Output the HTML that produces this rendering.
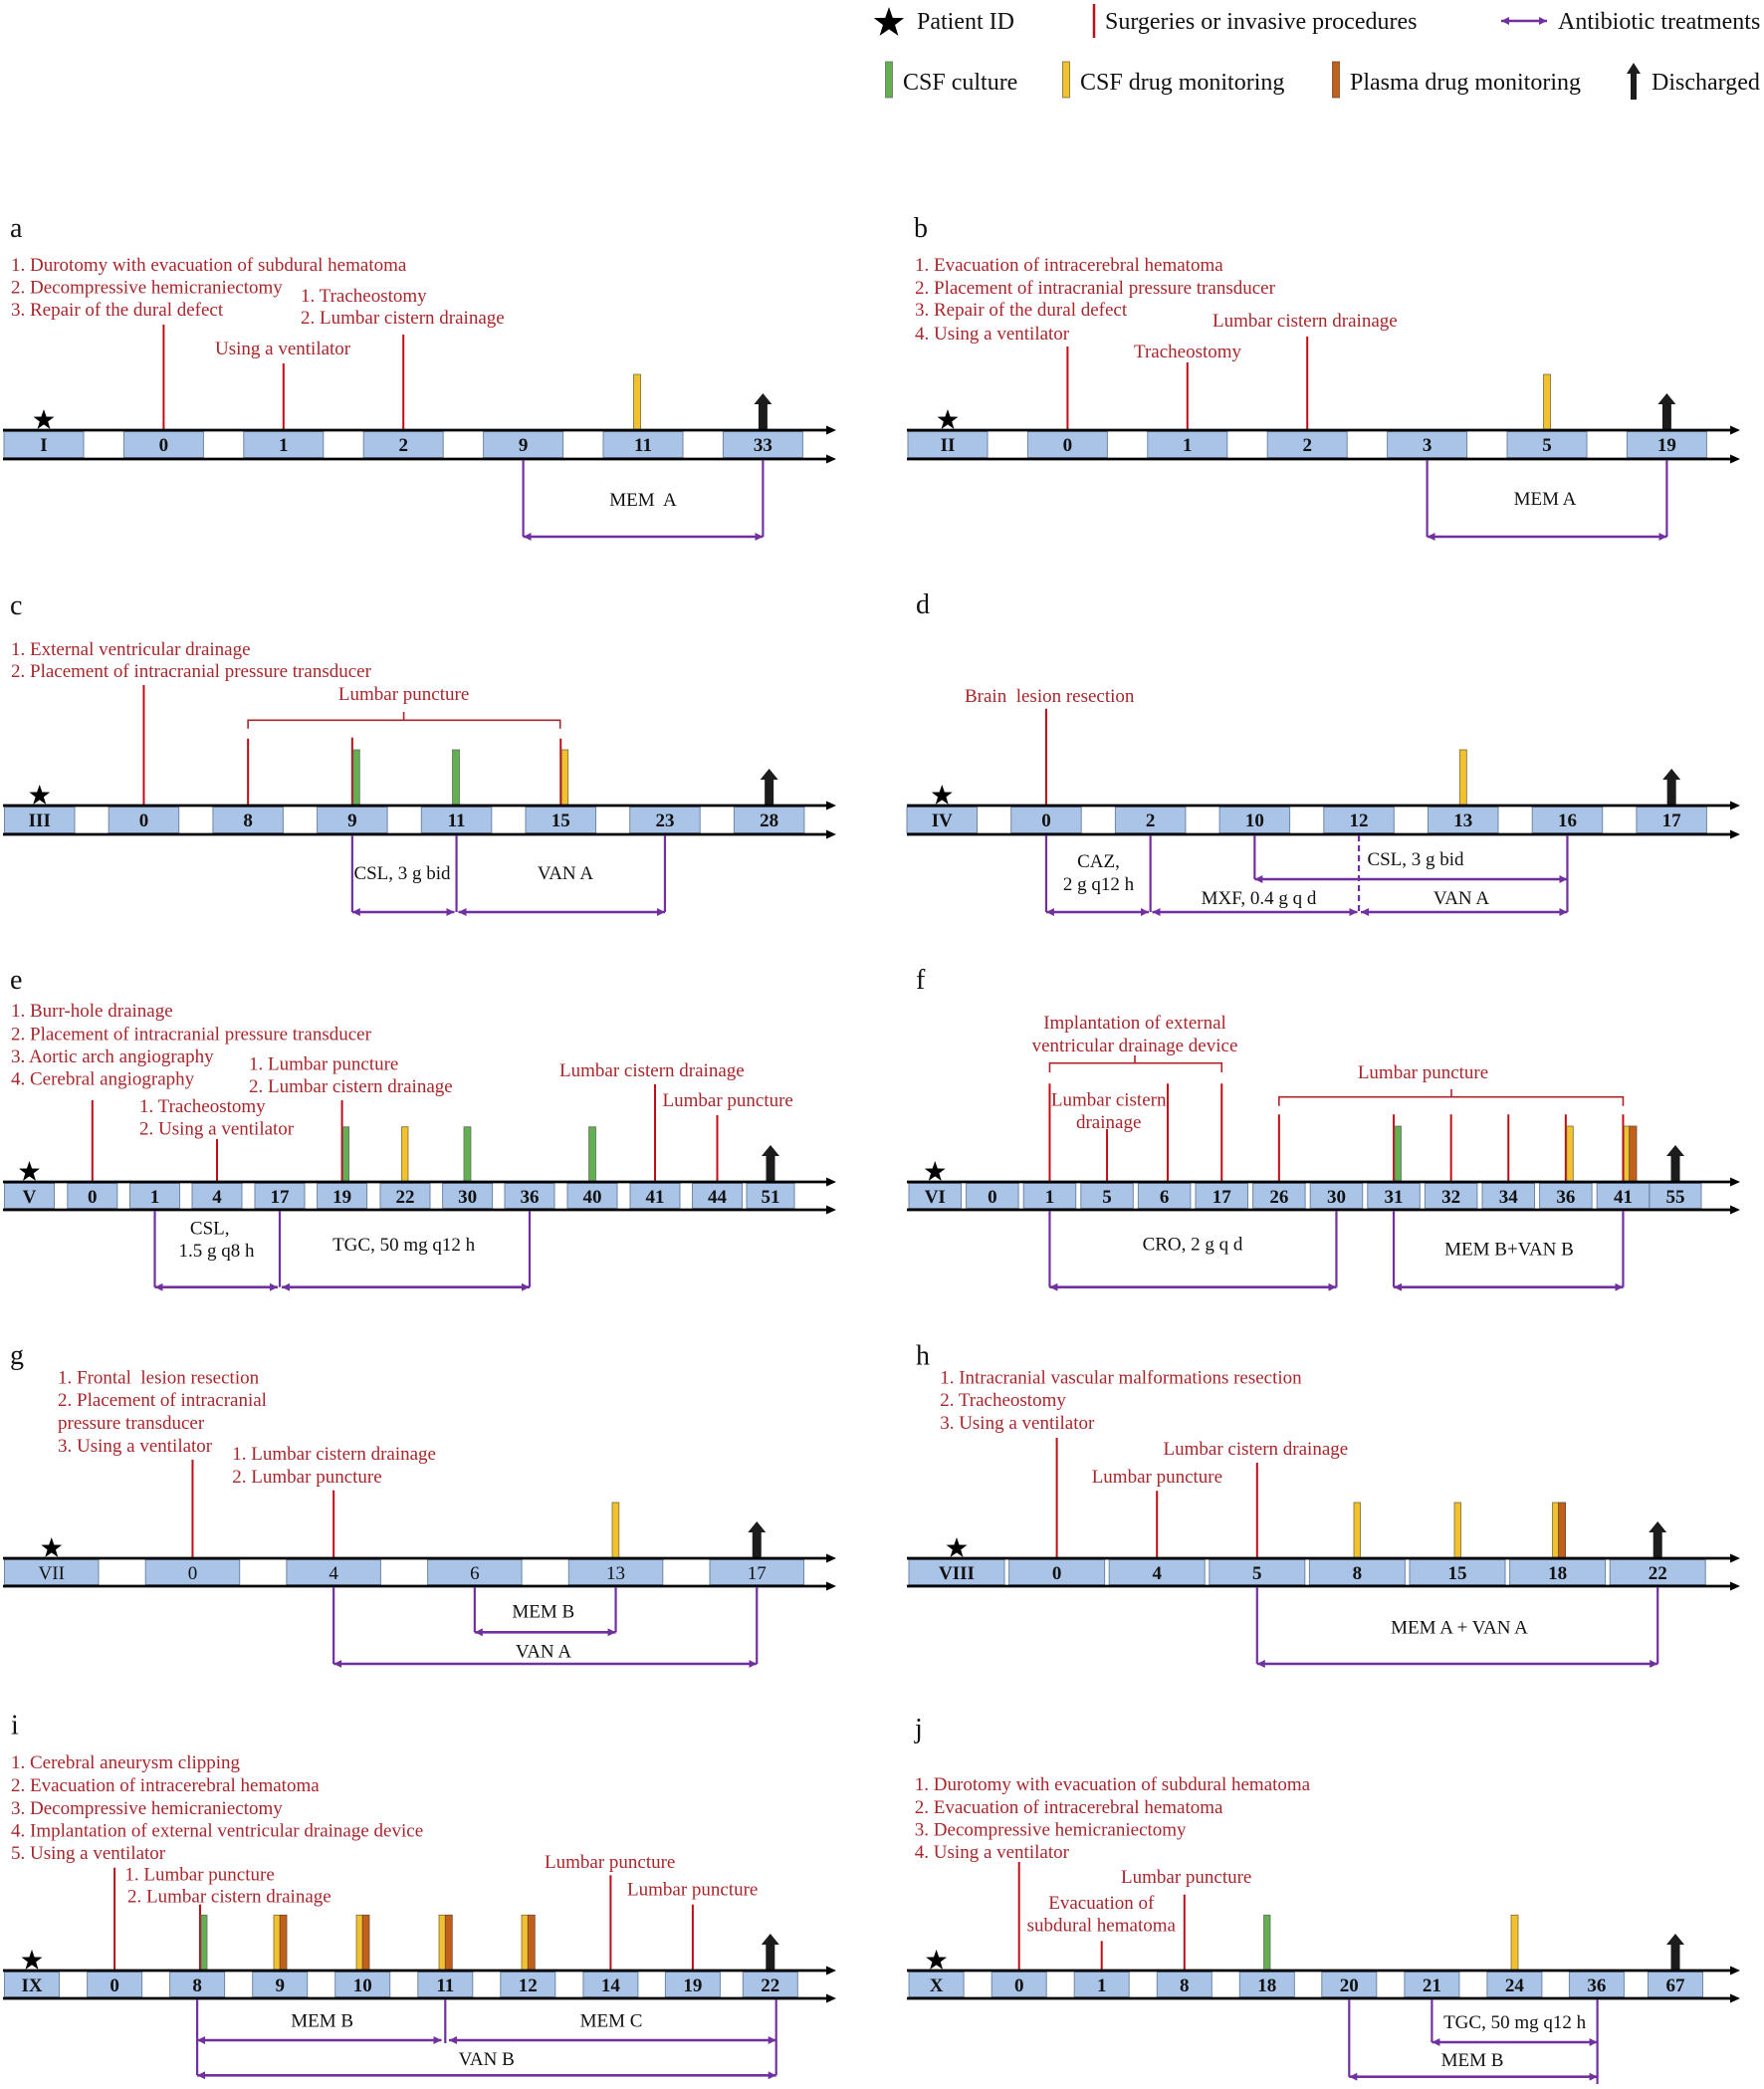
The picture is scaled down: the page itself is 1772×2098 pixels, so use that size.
<!DOCTYPE html>
<html>
<head>
<meta charset="utf-8">
<style>
html,body{margin:0;padding:0;background:#fff;}
svg{display:block;}
text{font-family:"Liberation Serif","Times New Roman",serif;}
.r{fill:#a8262b;font-size:19px;}
.k{fill:#111;font-size:19px;}
.m{text-anchor:middle;}
.n{font-size:19px;font-weight:bold;text-anchor:middle;fill:#111;}
.nr{font-size:19px;text-anchor:middle;fill:#111;}
.L{font-size:28px;fill:#111;}
.lg{font-size:24px;fill:#111;}
.cell{fill:#a9c4e7;stroke:#6f86a6;stroke-width:1;}
.rl{stroke:#c00d16;stroke-width:2;}
.rb{stroke:#a8262b;stroke-width:1.6;fill:none;}
.pl{stroke:#7030a0;stroke-width:2.2;fill:none;}
.pa{stroke:#7030a0;stroke-width:2.6;marker-start:url(#pm);marker-end:url(#pm);}
.bl{stroke:#000;stroke-width:2.8;marker-end:url(#am);}
.g{fill:#62b04f;stroke:#6a6a6a;stroke-width:0.8;}
.y{fill:#f2c12e;stroke:#7a6a3a;stroke-width:0.8;}
.o{fill:#c0601a;stroke:#6a4a3a;stroke-width:0.8;}
</style>
</head>
<body>
<svg width="1772" height="2098" viewBox="0 0 1772 2098" xmlns="http://www.w3.org/2000/svg">
<defs>
<marker id="am" viewBox="0 0 10 9" refX="2" refY="4.5" markerWidth="10" markerHeight="9" markerUnits="userSpaceOnUse" orient="auto"><path d="M0,0 L10,4.5 L0,9 z" fill="#000"/></marker>
<marker id="pm" viewBox="0 0 8 8" refX="8" refY="4" markerWidth="8" markerHeight="8" markerUnits="userSpaceOnUse" orient="auto-start-reverse"><path d="M0,0 L8,4 L0,8 z" fill="#7030a0"/></marker>
<polygon id="st" points="0,-11 2.586,-3.56 10.46,-3.4 4.185,1.36 6.466,8.9 0,4.4 -6.466,8.9 -4.185,1.36 -10.46,-3.4 -2.586,-3.56" fill="#000"/>
<path id="dis" d="M-4.5,0 V-25 H-9 L0,-36 L9,-25 H4.5 V0 Z" fill="#1c1c1c"/>
</defs>
<rect x="0" y="0" width="1772" height="2098" fill="#fff"/>

<!-- LEGEND -->
<use href="#st" transform="translate(893,23) scale(1.45)"/>
<text class="lg" x="921" y="29">Patient ID</text>
<line x1="1099" y1="4" x2="1099" y2="38" stroke="#c00d16" stroke-width="2.5"/>
<text class="lg" x="1110" y="29">Surgeries or invasive procedures</text>
<line class="pa" x1="1508" y1="21" x2="1554" y2="21"/>
<text class="lg" x="1565" y="29">Antibiotic treatments</text>
<rect class="g" x="889.5" y="62" width="7" height="36"/>
<text class="lg" x="907" y="90">CSF culture</text>
<rect class="y" x="1067.5" y="62" width="7" height="36"/>
<text class="lg" x="1085" y="90">CSF drug monitoring</text>
<rect class="o" x="1338.5" y="62" width="7" height="36"/>
<text class="lg" x="1356" y="90">Plasma drug monitoring</text>
<path d="M1638,100 V74 H1634 L1641,63 L1648,74 H1644 V100 Z" fill="#1c1c1c"/>
<text class="lg" x="1659" y="90">Discharged</text>

<!-- ================= PANEL A ================= -->
<text class="L" x="10" y="238">a</text>
<text class="r" x="11" y="272">1. Durotomy with evacuation of subdural hematoma</text>
<text class="r" x="11" y="294.5">2. Decompressive hemicraniectomy</text>
<text class="r" x="11" y="317">3. Repair of the dural defect</text>
<text class="r" x="302" y="303">1. Tracheostomy</text>
<text class="r" x="302" y="325">2. Lumbar cistern drainage</text>
<text class="r" x="216" y="356">Using a ventilator</text>
<line class="rl" x1="164.4" y1="326" x2="164.4" y2="432"/>
<line class="rl" x1="284.8" y1="365" x2="284.8" y2="432"/>
<line class="rl" x1="405.2" y1="336" x2="405.2" y2="432"/>
<rect class="y" x="636.5" y="376" width="7" height="56"/>
<use href="#dis" x="766.4" y="431"/>
<use href="#st" x="44" y="422"/>
<rect class="cell" x="4" y="433.5" width="80" height="26"/>
<rect class="cell" x="124.4" y="433.5" width="80" height="26"/>
<rect class="cell" x="244.8" y="433.5" width="80" height="26"/>
<rect class="cell" x="365.2" y="433.5" width="80" height="26"/>
<rect class="cell" x="485.6" y="433.5" width="80" height="26"/>
<rect class="cell" x="606" y="433.5" width="80" height="26"/>
<rect class="cell" x="726.4" y="433.5" width="80" height="26"/>
<line class="bl" x1="3" y1="432" x2="832" y2="432"/>
<line class="bl" x1="3" y1="461" x2="832" y2="461"/>
<text class="n" x="44" y="453">I</text>
<text class="n" x="164.4" y="453">0</text>
<text class="n" x="284.8" y="453">1</text>
<text class="n" x="405.2" y="453">2</text>
<text class="n" x="525.6" y="453">9</text>
<text class="n" x="646" y="453">11</text>
<text class="n" x="766.4" y="453">33</text>
<line class="pl" x1="525.6" y1="462" x2="525.6" y2="539"/>
<line class="pl" x1="766.4" y1="462" x2="766.4" y2="539"/>
<line class="pa" x1="525.6" y1="539" x2="766.4" y2="539"/>
<text class="k m" x="646" y="508">MEM&#160; A</text>

<!-- ================= PANEL B ================= -->
<text class="L" x="918" y="238">b</text>
<text class="r" x="919" y="272">1. Evacuation of intracerebral hematoma</text>
<text class="r" x="919" y="295">2. Placement of intracranial pressure transducer</text>
<text class="r" x="919" y="317">3. Repair of the dural defect</text>
<text class="r" x="919" y="341">4. Using a ventilator</text>
<text class="r" x="1218" y="328">Lumbar cistern drainage</text>
<text class="r" x="1139" y="359">Tracheostomy</text>
<line class="rl" x1="1072.4" y1="348" x2="1072.4" y2="432"/>
<line class="rl" x1="1192.8" y1="364" x2="1192.8" y2="432"/>
<line class="rl" x1="1313.2" y1="338" x2="1313.2" y2="432"/>
<rect class="y" x="1550.5" y="376" width="7" height="56"/>
<use href="#dis" x="1674.4" y="431"/>
<use href="#st" x="952" y="422"/>
<rect class="cell" x="912" y="433.5" width="80" height="26"/>
<rect class="cell" x="1032.4" y="433.5" width="80" height="26"/>
<rect class="cell" x="1152.8" y="433.5" width="80" height="26"/>
<rect class="cell" x="1273.2" y="433.5" width="80" height="26"/>
<rect class="cell" x="1393.6" y="433.5" width="80" height="26"/>
<rect class="cell" x="1514" y="433.5" width="80" height="26"/>
<rect class="cell" x="1634.4" y="433.5" width="80" height="26"/>
<line class="bl" x1="911" y1="432" x2="1740" y2="432"/>
<line class="bl" x1="911" y1="461" x2="1740" y2="461"/>
<text class="n" x="952" y="453">II</text>
<text class="n" x="1072.4" y="453">0</text>
<text class="n" x="1192.8" y="453">1</text>
<text class="n" x="1313.2" y="453">2</text>
<text class="n" x="1433.6" y="453">3</text>
<text class="n" x="1554" y="453">5</text>
<text class="n" x="1674.4" y="453">19</text>
<line class="pl" x1="1433.6" y1="462" x2="1433.6" y2="539"/>
<line class="pl" x1="1674.4" y1="462" x2="1674.4" y2="539"/>
<line class="pa" x1="1433.6" y1="539" x2="1674.4" y2="539"/>
<text class="k m" x="1552" y="507">MEM A</text>

<!-- ================= PANEL C ================= -->
<text class="L" x="10" y="617">c</text>
<text class="r" x="11" y="658">1. External ventricular drainage</text>
<text class="r" x="11" y="680">2. Placement of intracranial pressure transducer</text>
<text class="r m" x="405.6" y="703">Lumbar puncture</text>
<path class="rb" d="M249.15,731.7 V723.3 H562.7 V731.7 M405.6,723.3 V715"/>
<line class="rl" x1="144.45" y1="688" x2="144.45" y2="809"/>
<line class="rl" x1="249.15" y1="741.7" x2="249.15" y2="809"/>
<line class="rl" x1="353.85" y1="740.7" x2="353.85" y2="809"/>
<line class="rl" x1="563.25" y1="741.7" x2="563.25" y2="809"/>
<rect class="g" x="354.8" y="753" width="6.5" height="56"/>
<rect class="g" x="454.5" y="753" width="7" height="56"/>
<rect class="y" x="564.2" y="753" width="6.5" height="56"/>
<use href="#dis" x="772.65" y="808"/>
<use href="#st" x="39.75" y="799"/>
<rect class="cell" x="4.5" y="810.5" width="70.5" height="26"/>
<rect class="cell" x="109.2" y="810.5" width="70.5" height="26"/>
<rect class="cell" x="213.9" y="810.5" width="70.5" height="26"/>
<rect class="cell" x="318.6" y="810.5" width="70.5" height="26"/>
<rect class="cell" x="423.3" y="810.5" width="70.5" height="26"/>
<rect class="cell" x="528" y="810.5" width="70.5" height="26"/>
<rect class="cell" x="632.7" y="810.5" width="70.5" height="26"/>
<rect class="cell" x="737.4" y="810.5" width="70.5" height="26"/>
<line class="bl" x1="3" y1="809" x2="832" y2="809"/>
<line class="bl" x1="3" y1="838" x2="832" y2="838"/>
<text class="n" x="39.75" y="830">III</text>
<text class="n" x="144.45" y="830">0</text>
<text class="n" x="249.15" y="830">8</text>
<text class="n" x="353.85" y="830">9</text>
<text class="n" x="458.55" y="830">11</text>
<text class="n" x="563.25" y="830">15</text>
<text class="n" x="667.95" y="830">23</text>
<text class="n" x="772.65" y="830">28</text>
<line class="pl" x1="353.85" y1="839" x2="353.85" y2="916"/>
<line class="pl" x1="458.55" y1="839" x2="458.55" y2="916"/>
<line class="pl" x1="667.95" y1="839" x2="667.95" y2="916"/>
<line class="pa" x1="353.85" y1="916" x2="456.5" y2="916"/>
<line class="pa" x1="460.5" y1="916" x2="667.95" y2="916"/>
<text class="k m" x="404" y="883">CSL, 3 g bid</text>
<text class="k m" x="568" y="883">VAN A</text>

<!-- ================= PANEL D ================= -->
<text class="L" x="920" y="616">d</text>
<text class="r" x="969" y="705">Brain&#160; lesion resection</text>
<line class="rl" x1="1050.95" y1="711.7" x2="1050.95" y2="809"/>
<rect class="y" x="1466.3" y="753" width="7" height="56"/>
<use href="#dis" x="1679.15" y="808"/>
<use href="#st" x="946.25" y="799"/>
<rect class="cell" x="911" y="810.5" width="70.5" height="26"/>
<rect class="cell" x="1015.7" y="810.5" width="70.5" height="26"/>
<rect class="cell" x="1120.4" y="810.5" width="70.5" height="26"/>
<rect class="cell" x="1225.1" y="810.5" width="70.5" height="26"/>
<rect class="cell" x="1329.8" y="810.5" width="70.5" height="26"/>
<rect class="cell" x="1434.5" y="810.5" width="70.5" height="26"/>
<rect class="cell" x="1539.2" y="810.5" width="70.5" height="26"/>
<rect class="cell" x="1643.9" y="810.5" width="70.5" height="26"/>
<line class="bl" x1="911" y1="809" x2="1740" y2="809"/>
<line class="bl" x1="911" y1="838" x2="1740" y2="838"/>
<text class="n" x="946.25" y="830">IV</text>
<text class="n" x="1050.95" y="830">0</text>
<text class="n" x="1155.65" y="830">2</text>
<text class="n" x="1260.35" y="830">10</text>
<text class="n" x="1365.05" y="830">12</text>
<text class="n" x="1469.75" y="830">13</text>
<text class="n" x="1574.45" y="830">16</text>
<text class="n" x="1679.15" y="830">17</text>
<line class="pl" x1="1050.95" y1="839" x2="1050.95" y2="916"/>
<line class="pl" x1="1155.65" y1="839" x2="1155.65" y2="916"/>
<line class="pl" x1="1260.35" y1="839" x2="1260.35" y2="883"/>
<line class="pl" x1="1365.05" y1="839" x2="1365.05" y2="916" stroke-dasharray="6,4"/>
<line class="pl" x1="1574.45" y1="839" x2="1574.45" y2="916"/>
<line class="pa" x1="1050.95" y1="916" x2="1154" y2="916"/>
<line class="pa" x1="1157.5" y1="916" x2="1363.5" y2="916"/>
<line class="pa" x1="1367" y1="916" x2="1574.45" y2="916"/>
<line class="pa" x1="1260.35" y1="883" x2="1574.45" y2="883"/>
<text class="k m" x="1103.5" y="871">CAZ,</text>
<text class="k m" x="1103.5" y="894">2 g q12 h</text>
<text class="k m" x="1264.5" y="908">MXF, 0.4 g q d</text>
<text class="k m" x="1468" y="908">VAN A</text>
<text class="k m" x="1422" y="869">CSL, 3 g bid</text>

<!-- ================= PANEL E ================= -->
<text class="L" x="10" y="993">e</text>
<text class="r" x="11" y="1021">1. Burr-hole drainage</text>
<text class="r" x="11" y="1044.5">2. Placement of intracranial pressure transducer</text>
<text class="r" x="11" y="1067">3. Aortic arch angiography</text>
<text class="r" x="11" y="1089.5">4. Cerebral angiography</text>
<text class="r" x="250" y="1074.5">1. Lumbar puncture</text>
<text class="r" x="250" y="1097">2. Lumbar cistern drainage</text>
<text class="r" x="140" y="1117">1. Tracheostomy</text>
<text class="r" x="140" y="1139.5">2. Using a ventilator</text>
<text class="r" x="562" y="1081">Lumbar cistern drainage</text>
<text class="r" x="665.5" y="1111">Lumbar puncture</text>
<line class="rl" x1="92.8" y1="1105" x2="92.8" y2="1187"/>
<line class="rl" x1="218" y1="1144" x2="218" y2="1187"/>
<line class="rl" x1="343.6" y1="1105" x2="343.6" y2="1187"/>
<line class="rl" x1="658" y1="1089" x2="658" y2="1187"/>
<line class="rl" x1="720.5" y1="1120" x2="720.5" y2="1187"/>
<rect class="g" x="344.6" y="1131.7" width="6" height="55"/>
<rect class="y" x="403.5" y="1131.7" width="6.5" height="55"/>
<rect class="g" x="466" y="1131.7" width="7" height="55"/>
<rect class="g" x="591.5" y="1131.7" width="7" height="55"/>
<use href="#dis" x="774" y="1186"/>
<use href="#st" x="29.5" y="1177"/>
<rect class="cell" x="4.5" y="1188.5" width="50" height="25"/>
<rect class="cell" x="67.8" y="1188.5" width="50" height="25"/>
<rect class="cell" x="130.5" y="1188.5" width="50" height="25"/>
<rect class="cell" x="193" y="1188.5" width="50" height="25"/>
<rect class="cell" x="256" y="1188.5" width="50" height="25"/>
<rect class="cell" x="318.6" y="1188.5" width="50" height="25"/>
<rect class="cell" x="382" y="1188.5" width="50" height="25"/>
<rect class="cell" x="444.6" y="1188.5" width="50" height="25"/>
<rect class="cell" x="507" y="1188.5" width="50" height="25"/>
<rect class="cell" x="570" y="1188.5" width="50" height="25"/>
<rect class="cell" x="633" y="1188.5" width="50" height="25"/>
<rect class="cell" x="695.5" y="1188.5" width="50" height="25"/>
<rect class="cell" x="750" y="1188.5" width="48" height="25"/>
<line class="bl" x1="3" y1="1187" x2="832" y2="1187"/>
<line class="bl" x1="3" y1="1215" x2="832" y2="1215"/>
<text class="n" x="29.5" y="1208">V</text>
<text class="n" x="92.8" y="1208">0</text>
<text class="n" x="155.5" y="1208">1</text>
<text class="n" x="218" y="1208">4</text>
<text class="n" x="281" y="1208">17</text>
<text class="n" x="343.6" y="1208">19</text>
<text class="n" x="407" y="1208">22</text>
<text class="n" x="469.6" y="1208">30</text>
<text class="n" x="532" y="1208">36</text>
<text class="n" x="595" y="1208">40</text>
<text class="n" x="658" y="1208">41</text>
<text class="n" x="720.5" y="1208">44</text>
<text class="n" x="774" y="1208">51</text>
<line class="pl" x1="155.5" y1="1216" x2="155.5" y2="1292.7"/>
<line class="pl" x1="281" y1="1216" x2="281" y2="1292.7"/>
<line class="pl" x1="532" y1="1216" x2="532" y2="1292.7"/>
<line class="pa" x1="155.5" y1="1292.7" x2="279" y2="1292.7"/>
<line class="pa" x1="283" y1="1292.7" x2="532" y2="1292.7"/>
<text class="k m" x="210.7" y="1239.5">CSL,</text>
<text class="k m" x="217.5" y="1262">1.5 g q8 h</text>
<text class="k m" x="405.6" y="1256">TGC, 50 mg q12 h</text>

<!-- ================= PANEL F ================= -->
<text class="L" x="920" y="993">f</text>
<text class="r m" x="1140" y="1033">Implantation of external</text>
<text class="r m" x="1140" y="1056">ventricular drainage device</text>
<path class="rb" d="M1054.45,1077 V1067.7 H1227.25 V1077 M1140,1067.7 V1060"/>
<text class="r m" x="1113.7" y="1110.5">Lumbar cistern</text>
<text class="r m" x="1113.7" y="1133">drainage</text>
<text class="r m" x="1429.5" y="1083">Lumbar puncture</text>
<path class="rb" d="M1284.85,1110.7 V1101.7 H1630.45 V1110.7 M1458,1101.7 V1094"/>
<line class="rl" x1="1054.45" y1="1088.3" x2="1054.45" y2="1187"/>
<line class="rl" x1="1112.05" y1="1134" x2="1112.05" y2="1187"/>
<line class="rl" x1="1173" y1="1088.3" x2="1173" y2="1187"/>
<line class="rl" x1="1227.25" y1="1088.3" x2="1227.25" y2="1187"/>
<line class="rl" x1="1284.85" y1="1119.3" x2="1284.85" y2="1187"/>
<line class="rl" x1="1400.05" y1="1119.3" x2="1400.05" y2="1187"/>
<line class="rl" x1="1457.65" y1="1119.3" x2="1457.65" y2="1187"/>
<line class="rl" x1="1515.25" y1="1119.3" x2="1515.25" y2="1187"/>
<line class="rl" x1="1572.85" y1="1119.3" x2="1572.85" y2="1187"/>
<line class="rl" x1="1630.45" y1="1119.3" x2="1630.45" y2="1187"/>
<rect class="g" x="1401" y="1131" width="6.5" height="56"/>
<rect class="y" x="1573.8" y="1131" width="6.5" height="56"/>
<rect class="y" x="1631.4" y="1131" width="5.3" height="56"/>
<rect class="o" x="1636.7" y="1131" width="7.3" height="56"/>
<use href="#dis" x="1683" y="1186"/>
<use href="#st" x="939.25" y="1177"/>
<rect class="cell" x="913" y="1188.5" width="52.5" height="25"/>
<rect class="cell" x="970.6" y="1188.5" width="52.5" height="25"/>
<rect class="cell" x="1028.2" y="1188.5" width="52.5" height="25"/>
<rect class="cell" x="1085.8" y="1188.5" width="52.5" height="25"/>
<rect class="cell" x="1143.4" y="1188.5" width="52.5" height="25"/>
<rect class="cell" x="1201" y="1188.5" width="52.5" height="25"/>
<rect class="cell" x="1258.6" y="1188.5" width="52.5" height="25"/>
<rect class="cell" x="1316.2" y="1188.5" width="52.5" height="25"/>
<rect class="cell" x="1373.8" y="1188.5" width="52.5" height="25"/>
<rect class="cell" x="1431.4" y="1188.5" width="52.5" height="25"/>
<rect class="cell" x="1489" y="1188.5" width="52.5" height="25"/>
<rect class="cell" x="1546.6" y="1188.5" width="52.5" height="25"/>
<rect class="cell" x="1604.2" y="1188.5" width="52.5" height="25"/>
<rect class="cell" x="1657" y="1188.5" width="52" height="25"/>
<line class="bl" x1="911" y1="1187" x2="1740" y2="1187"/>
<line class="bl" x1="911" y1="1215" x2="1740" y2="1215"/>
<text class="n" x="939.25" y="1208">VI</text>
<text class="n" x="996.85" y="1208">0</text>
<text class="n" x="1054.45" y="1208">1</text>
<text class="n" x="1112.05" y="1208">5</text>
<text class="n" x="1169.65" y="1208">6</text>
<text class="n" x="1227.25" y="1208">17</text>
<text class="n" x="1284.85" y="1208">26</text>
<text class="n" x="1342.45" y="1208">30</text>
<text class="n" x="1400.05" y="1208">31</text>
<text class="n" x="1457.65" y="1208">32</text>
<text class="n" x="1515.25" y="1208">34</text>
<text class="n" x="1572.85" y="1208">36</text>
<text class="n" x="1630.45" y="1208">41</text>
<text class="n" x="1683" y="1208">55</text>
<line class="pl" x1="1054.45" y1="1216" x2="1054.45" y2="1292.7"/>
<line class="pl" x1="1342.45" y1="1216" x2="1342.45" y2="1292.7"/>
<line class="pl" x1="1400.05" y1="1216" x2="1400.05" y2="1292.7"/>
<line class="pl" x1="1630.45" y1="1216" x2="1630.45" y2="1292.7"/>
<line class="pa" x1="1054.45" y1="1292.7" x2="1342.45" y2="1292.7"/>
<line class="pa" x1="1400.05" y1="1292.7" x2="1630.45" y2="1292.7"/>
<text class="k m" x="1198" y="1255.5">CRO, 2 g q d</text>
<text class="k m" x="1516" y="1260.5">MEM B+VAN B</text>

<!-- ================= PANEL G ================= -->
<text class="L" x="10" y="1370">g</text>
<text class="r" x="58" y="1389.5">1. Frontal&#160; lesion resection</text>
<text class="r" x="58" y="1412">2. Placement of intracranial</text>
<text class="r" x="58" y="1435">pressure transducer</text>
<text class="r" x="58" y="1458">3. Using a ventilator</text>
<text class="r" x="233.3" y="1466">1. Lumbar cistern drainage</text>
<text class="r" x="233.3" y="1489">2. Lumbar puncture</text>
<line class="rl" x1="193.45" y1="1466" x2="193.45" y2="1565"/>
<line class="rl" x1="335.15" y1="1496.7" x2="335.15" y2="1565"/>
<rect class="y" x="615" y="1509" width="6.8" height="56"/>
<use href="#dis" x="760.25" y="1564"/>
<use href="#st" x="51.75" y="1555"/>
<rect class="cell" x="4.5" y="1566.5" width="94.5" height="25"/>
<rect class="cell" x="146.2" y="1566.5" width="94.5" height="25"/>
<rect class="cell" x="287.9" y="1566.5" width="94.5" height="25"/>
<rect class="cell" x="429.6" y="1566.5" width="94.5" height="25"/>
<rect class="cell" x="571.3" y="1566.5" width="94.5" height="25"/>
<rect class="cell" x="713" y="1566.5" width="94.5" height="25"/>
<line class="bl" x1="3" y1="1565" x2="832" y2="1565"/>
<line class="bl" x1="3" y1="1593" x2="832" y2="1593"/>
<text class="nr" x="51.75" y="1586">VII</text>
<text class="nr" x="193.45" y="1586">0</text>
<text class="nr" x="335.15" y="1586">4</text>
<text class="nr" x="476.85" y="1586">6</text>
<text class="nr" x="618.55" y="1586">13</text>
<text class="nr" x="760.25" y="1586">17</text>
<line class="pl" x1="476.85" y1="1594" x2="476.85" y2="1639.3"/>
<line class="pl" x1="618.55" y1="1594" x2="618.55" y2="1639.3"/>
<line class="pa" x1="476.85" y1="1639.3" x2="618.55" y2="1639.3"/>
<line class="pl" x1="335.15" y1="1594" x2="335.15" y2="1671"/>
<line class="pl" x1="760.25" y1="1594" x2="760.25" y2="1671"/>
<line class="pa" x1="335.15" y1="1671" x2="760.25" y2="1671"/>
<text class="k m" x="545.8" y="1624.5">MEM B</text>
<text class="k m" x="546" y="1664.5">VAN A</text>

<!-- ================= PANEL H ================= -->
<text class="L" x="920" y="1370.7">h</text>
<text class="r" x="944.2" y="1389.5">1. Intracranial vascular malformations resection</text>
<text class="r" x="944.2" y="1412">2. Tracheostomy</text>
<text class="r" x="944.2" y="1435">3. Using a ventilator</text>
<text class="r" x="1168.5" y="1461">Lumbar cistern drainage</text>
<text class="r" x="1096.7" y="1489">Lumbar puncture</text>
<line class="rl" x1="1061.6" y1="1444" x2="1061.6" y2="1565"/>
<line class="rl" x1="1162.2" y1="1497.3" x2="1162.2" y2="1565"/>
<line class="rl" x1="1262.8" y1="1469" x2="1262.8" y2="1565"/>
<rect class="y" x="1360" y="1509" width="6.5" height="56"/>
<rect class="y" x="1461" y="1509" width="6.5" height="56"/>
<rect class="y" x="1559.5" y="1509" width="6.1" height="56"/>
<rect class="o" x="1565.6" y="1509" width="7" height="56"/>
<use href="#dis" x="1665.2" y="1564"/>
<use href="#st" x="961" y="1555"/>
<rect class="cell" x="913" y="1566.5" width="96" height="25"/>
<rect class="cell" x="1013.6" y="1566.5" width="96" height="25"/>
<rect class="cell" x="1114.2" y="1566.5" width="96" height="25"/>
<rect class="cell" x="1214.8" y="1566.5" width="96" height="25"/>
<rect class="cell" x="1315.4" y="1566.5" width="96" height="25"/>
<rect class="cell" x="1416" y="1566.5" width="96" height="25"/>
<rect class="cell" x="1516.6" y="1566.5" width="96" height="25"/>
<rect class="cell" x="1617.2" y="1566.5" width="96" height="25"/>
<line class="bl" x1="911" y1="1565" x2="1740" y2="1565"/>
<line class="bl" x1="911" y1="1593" x2="1740" y2="1593"/>
<text class="n" x="961" y="1586">VIII</text>
<text class="n" x="1061.6" y="1586">0</text>
<text class="n" x="1162.2" y="1586">4</text>
<text class="n" x="1262.8" y="1586">5</text>
<text class="n" x="1363.4" y="1586">8</text>
<text class="n" x="1464" y="1586">15</text>
<text class="n" x="1564.6" y="1586">18</text>
<text class="n" x="1665.2" y="1586">22</text>
<line class="pl" x1="1262.8" y1="1594" x2="1262.8" y2="1671"/>
<line class="pl" x1="1665.2" y1="1594" x2="1665.2" y2="1671"/>
<line class="pa" x1="1262.8" y1="1671" x2="1665.2" y2="1671"/>
<text class="k m" x="1466" y="1640.5">MEM A + VAN A</text>

<!-- ================= PANEL I ================= -->
<text class="L" x="11" y="1741.7">i</text>
<text class="r" x="11" y="1776">1. Cerebral aneurysm clipping</text>
<text class="r" x="11" y="1799">2. Evacuation of intracerebral hematoma</text>
<text class="r" x="11" y="1822">3. Decompressive hemicraniectomy</text>
<text class="r" x="11" y="1844.5">4. Implantation of external ventricular drainage device</text>
<text class="r" x="11" y="1867">5. Using a ventilator</text>
<text class="r" x="125.4" y="1888.5">1. Lumbar puncture</text>
<text class="r" x="128" y="1910.5">2. Lumbar cistern drainage</text>
<text class="r" x="547" y="1876">Lumbar puncture</text>
<text class="r" x="630" y="1903.5">Lumbar puncture</text>
<line class="rl" x1="115.1" y1="1875.7" x2="115.1" y2="1979"/>
<line class="rl" x1="201" y1="1912.7" x2="201" y2="1979"/>
<line class="rl" x1="613.4" y1="1883.3" x2="613.4" y2="1979"/>
<line class="rl" x1="695.9" y1="1912.7" x2="695.9" y2="1979"/>
<rect class="g" x="202" y="1923.3" width="6" height="55.7"/>
<rect class="y" x="275" y="1923.3" width="6.2" height="55.7"/>
<rect class="o" x="281.2" y="1923.3" width="6.8" height="55.7"/>
<rect class="y" x="358" y="1923.3" width="6.2" height="55.7"/>
<rect class="o" x="364.2" y="1923.3" width="6.8" height="55.7"/>
<rect class="y" x="441" y="1923.3" width="6.3" height="55.7"/>
<rect class="o" x="447.3" y="1923.3" width="7" height="55.7"/>
<rect class="y" x="524" y="1923.3" width="6.3" height="55.7"/>
<rect class="o" x="530.3" y="1923.3" width="7" height="55.7"/>
<use href="#dis" x="773.8" y="1978"/>
<use href="#st" x="32" y="1969"/>
<rect class="cell" x="4.5" y="1980.5" width="55" height="25"/>
<rect class="cell" x="87.6" y="1980.5" width="55" height="25"/>
<rect class="cell" x="170.6" y="1980.5" width="55" height="25"/>
<rect class="cell" x="253.7" y="1980.5" width="55" height="25"/>
<rect class="cell" x="336.7" y="1980.5" width="55" height="25"/>
<rect class="cell" x="419.8" y="1980.5" width="55" height="25"/>
<rect class="cell" x="502.8" y="1980.5" width="55" height="25"/>
<rect class="cell" x="585.9" y="1980.5" width="55" height="25"/>
<rect class="cell" x="668.4" y="1980.5" width="55" height="25"/>
<rect class="cell" x="746.3" y="1980.5" width="55" height="25"/>
<line class="bl" x1="3" y1="1979" x2="832" y2="1979"/>
<line class="bl" x1="3" y1="2007" x2="832" y2="2007"/>
<text class="n" x="32" y="2000">IX</text>
<text class="n" x="115.1" y="2000">0</text>
<text class="n" x="198.1" y="2000">8</text>
<text class="n" x="281.2" y="2000">9</text>
<text class="n" x="364.2" y="2000">10</text>
<text class="n" x="447.3" y="2000">11</text>
<text class="n" x="530.3" y="2000">12</text>
<text class="n" x="613.4" y="2000">14</text>
<text class="n" x="695.9" y="2000">19</text>
<text class="n" x="773.8" y="2000">22</text>
<line class="pl" x1="198.1" y1="2008" x2="198.1" y2="2084.3"/>
<line class="pl" x1="447.3" y1="2008" x2="447.3" y2="2052"/>
<line class="pl" x1="779.7" y1="2008" x2="779.7" y2="2084.3"/>
<line class="pa" x1="198.1" y1="2049" x2="443.5" y2="2049"/>
<line class="pa" x1="451" y1="2049" x2="779.7" y2="2049"/>
<line class="pa" x1="198.1" y1="2084.3" x2="779.7" y2="2084.3"/>
<text class="k m" x="323.7" y="2035.5">MEM B</text>
<text class="k m" x="614" y="2035.5">MEM C</text>
<text class="k m" x="488.7" y="2074">VAN B</text>

<!-- ================= PANEL J ================= -->
<text class="L" x="919" y="1745">j</text>
<text class="r" x="918.8" y="1798">1. Durotomy with evacuation of subdural hematoma</text>
<text class="r" x="918.8" y="1821">2. Evacuation of intracerebral hematoma</text>
<text class="r" x="918.8" y="1843.5">3. Decompressive hemicraniectomy</text>
<text class="r" x="918.8" y="1866">4. Using a ventilator</text>
<text class="r" x="1126" y="1891">Lumbar puncture</text>
<text class="r m" x="1106.3" y="1917">Evacuation of</text>
<text class="r m" x="1106.3" y="1939.5">subdural hematoma</text>
<line class="rl" x1="1023.7" y1="1870" x2="1023.7" y2="1979"/>
<line class="rl" x1="1106.7" y1="1949.3" x2="1106.7" y2="1979"/>
<line class="rl" x1="1189.8" y1="1902.7" x2="1189.8" y2="1979"/>
<rect class="g" x="1269.5" y="1923.3" width="6.5" height="55.7"/>
<rect class="y" x="1518" y="1923.3" width="7" height="55.7"/>
<use href="#dis" x="1683" y="1978"/>
<use href="#st" x="940.6" y="1969"/>
<rect class="cell" x="913.1" y="1980.5" width="55" height="25"/>
<rect class="cell" x="996.2" y="1980.5" width="55" height="25"/>
<rect class="cell" x="1079.2" y="1980.5" width="55" height="25"/>
<rect class="cell" x="1162.3" y="1980.5" width="55" height="25"/>
<rect class="cell" x="1245.3" y="1980.5" width="55" height="25"/>
<rect class="cell" x="1327.8" y="1980.5" width="55" height="25"/>
<rect class="cell" x="1410.9" y="1980.5" width="55" height="25"/>
<rect class="cell" x="1493.9" y="1980.5" width="55" height="25"/>
<rect class="cell" x="1576.4" y="1980.5" width="55" height="25"/>
<rect class="cell" x="1655.5" y="1980.5" width="55" height="25"/>
<line class="bl" x1="911" y1="1979" x2="1740" y2="1979"/>
<line class="bl" x1="911" y1="2007" x2="1740" y2="2007"/>
<text class="n" x="940.6" y="2000">X</text>
<text class="n" x="1023.7" y="2000">0</text>
<text class="n" x="1106.7" y="2000">1</text>
<text class="n" x="1189.8" y="2000">8</text>
<text class="n" x="1272.8" y="2000">18</text>
<text class="n" x="1355.3" y="2000">20</text>
<text class="n" x="1438.4" y="2000">21</text>
<text class="n" x="1521.4" y="2000">24</text>
<text class="n" x="1603.9" y="2000">36</text>
<text class="n" x="1683" y="2000">67</text>
<line class="pl" x1="1438.4" y1="2008" x2="1438.4" y2="2051"/>
<line class="pl" x1="1604.6" y1="2008" x2="1604.6" y2="2093"/>
<line class="pl" x1="1355.3" y1="2008" x2="1355.3" y2="2085.7"/>
<line class="pa" x1="1438.4" y1="2051" x2="1604.6" y2="2051"/>
<line class="pa" x1="1355.3" y1="2085.7" x2="1604.6" y2="2085.7"/>
<text class="k m" x="1521.6" y="2037">TGC, 50 mg q12 h</text>
<text class="k m" x="1479" y="2075">MEM B</text>
</svg>
</body>
</html>
